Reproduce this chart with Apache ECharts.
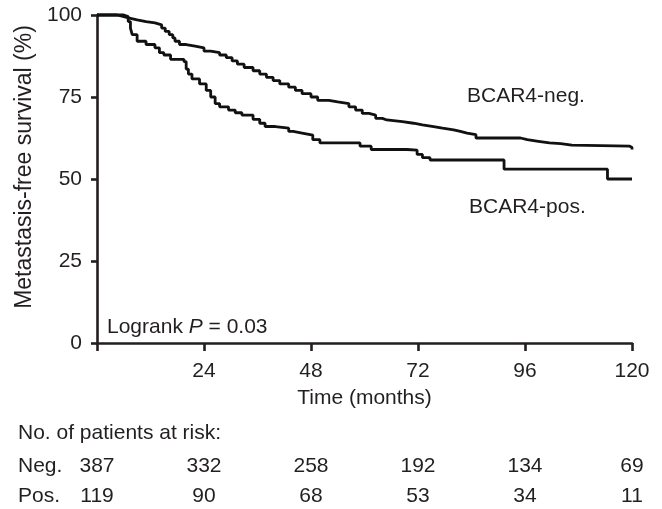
<!DOCTYPE html>
<html>
<head>
<meta charset="utf-8">
<script src="https://cdn.jsdelivr.net/npm/echarts@6/dist/echarts.min.js"></script>
<style>
html,body{margin:0;padding:0;background:#fff;}
#c{width:662px;height:509px;}
</style>
</head>
<body>
<div id="c"></div>
<script>
// ---- data ----
const negMonths = [0, 4.5, 6, 7.5, 9, 11, 13, 14.5, 15.3, 16.2, 17, 17.5, 18.5, 20, 22, 24, 25.5, 27.5, 29, 30.3, 31.5, 33, 35, 36.5, 38, 39.5, 41, 43, 44.5, 46, 48, 49.5, 52, 54, 56.5, 58, 59.5, 61, 62.5, 64, 65, 68.5, 71, 73, 75.5, 77.5, 80, 81.5, 83, 85, 95, 96.5, 99, 101.5, 104, 106.5, 119.5, 120];
const negSurv   = [100, 99.5, 99, 98.5, 98, 97.6, 97, 96, 95, 94, 93, 92, 91, 90.5, 90, 89, 88.5, 87.8, 87, 86, 85, 84, 83, 82, 81, 80, 79, 78, 77, 76, 75, 74, 73.5, 73, 72, 71, 70, 69.5, 68.5, 68, 67.5, 67, 66.5, 66, 65.5, 65, 64.5, 64, 63.5, 62.5, 62, 61.5, 61, 60.8, 60.3, 60, 59.6, 59];
const posMonths = [0, 5, 6, 7, 7.5, 7.9, 9, 11, 13, 14, 15, 16.5, 19.5, 20, 20.5, 21.3, 23, 24.5, 25.5, 26.5, 27.5, 29.5, 31, 32.5, 35, 36.5, 37.7, 40, 43, 44, 46, 48.4, 50, 57.5, 59, 61.5, 69.5, 71.8, 73, 74.7, 91.3, 114.5, 120];
const posSurv   = [100, 100, 99.5, 98, 96, 94, 92, 91, 90, 88.5, 87.8, 86.5, 85.8, 83.5, 82, 80.5, 79, 77, 75, 73, 72, 71, 70.2, 69.5, 68.2, 67, 66, 65.5, 64.5, 64, 63.4, 62, 61, 61, 60, 59, 58.8, 57.5, 56.5, 55.8, 53, 50, 50];
const xTicks = [0, 24, 48, 72, 96, 120];
const yTicks = [0, 25, 50, 75, 100];
const riskTimes = [0, 24, 48, 72, 96, 120];
const riskNeg = [387, 332, 258, 192, 134, 69];
const riskPos = [119, 90, 68, 53, 34, 11];

const FONT = '"Liberation Sans", Arial, Helvetica, sans-serif';
const INK = '#231f20';
const FS = 21;

function pairs(xs, ys){ return xs.map((x,i)=>[x, ys[i]]); }

const chart = echarts.init(document.getElementById('c'), null, {renderer:'canvas'});
const option = {
  animation: false,
  backgroundColor: '#fff',
  grid: {left: 97, right: 30, top: 15, bottom: 166, containLabel: false},
  xAxis: {
    type: 'value', min: xTicks[0], max: xTicks[xTicks.length-1], interval: 24,
    axisLine: {show: true, onZero: false, lineStyle: {color: INK, width: 2.6}},
    axisTick: {show: true, length: 8, lineStyle: {color: INK, width: 2.6}},
    splitLine: {show: false},
    axisLabel: {color: INK, fontFamily: FONT, fontSize: FS, margin: 18,
      formatter: v => (v === 0 ? '' : String(v))}
  },
  yAxis: {
    type: 'value', min: yTicks[0], max: yTicks[yTicks.length-1], interval: 25,
    axisLine: {show: true, lineStyle: {color: INK, width: 2.6}},
    axisTick: {show: true, length: 6, lineStyle: {color: INK, width: 2.6}},
    splitLine: {show: false},
    axisLabel: {color: INK, fontFamily: FONT, fontSize: FS, margin: 15}
  },
  series: [
    {name: 'BCAR4-neg.', type: 'line', step: 'end', showSymbol: false, clip: false,
     data: pairs(negMonths, negSurv), lineStyle: {color: '#111', width: 2.8}},
    {name: 'BCAR4-pos.', type: 'line', step: 'end', showSymbol: false, clip: false,
     data: pairs(posMonths, posSurv), lineStyle: {color: '#111', width: 2.8}}
  ]
};
chart.setOption(option);

const txt = (x, y, s, extra) => ({
  type: 'text', x: x, y: y,
  style: Object.assign({text: s, fill: INK, font: FS + 'px ' + FONT, textVerticalAlign: 'middle'}, extra || {})
});

const g = [];
g.push({type:'text', x: 25, y: 167, rotation: Math.PI/2,
  style: {text: 'Metastasis-free survival (%)', fill: INK, font: '23px ' + FONT,
    textAlign: 'center', textVerticalAlign: 'middle'}});
g.push(txt(467, 96, 'BCAR4-neg.'));
g.push(txt(469, 207, 'BCAR4-pos.'));
g.push({type:'text', x: 107, y: 327, style: {
  rich: {n: {fontFamily: FONT, fontSize: FS, color: INK},
         i: {fontFamily: FONT, fontSize: FS, fontStyle: 'italic', color: INK}},
  text: '{n|Logrank }{i|P}{n| = 0.03}', fill: INK, font: FS + 'px ' + FONT, textVerticalAlign: 'middle'}});
const mid = chart.convertToPixel({xAxisIndex: 0}, 60);
g.push(txt(mid, 398, 'Time (months)', {textAlign: 'center'}));
g.push(txt(18, 433, 'No. of patients at risk:'));
g.push(txt(18, 466, 'Neg.'));
g.push(txt(18, 496, 'Pos.'));
riskTimes.forEach((t, i) => {
  const px = chart.convertToPixel({xAxisIndex: 0}, t);
  g.push(txt(px, 466, String(riskNeg[i]), {textAlign: 'center'}));
  g.push(txt(px, 496, String(riskPos[i]), {textAlign: 'center'}));
});
chart.setOption({graphic: g});
</script>
</body>
</html>
